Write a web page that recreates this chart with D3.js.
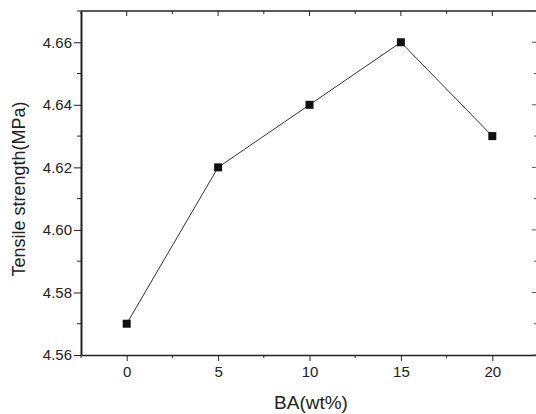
<!DOCTYPE html>
<html><head><meta charset="utf-8">
<script src="https://cdn.jsdelivr.net/npm/d3@7"></script>
<style>body{margin:0;background:#fff}svg{display:block}text{font-family:"Liberation Sans",Arial,sans-serif;fill:#222}</style>
</head><body>
<script>
const baContent = [0, 5, 10, 15, 20];
const tensile = [4.57, 4.62, 4.64, 4.66, 4.63];
const xTicks = [0, 5, 10, 15, 20];
const yTicks = [4.56, 4.58, 4.60, 4.62, 4.64, 4.66];

const W = 536, H = 414;
const m = {l: 81, r: -2, t: 11, b: 59};
const svg = d3.select("body").append("svg").attr("width", W).attr("height", H);
const x = d3.scaleLinear().domain([-2.5, 22.5]).range([m.l, W - m.r]);
const y = d3.scaleLinear().domain([4.56, 4.67]).range([H - m.b, m.t]);

const xMinor = d3.range(-2.5, 22.6, 2.5).filter(v => !xTicks.includes(v));
const yMinor = d3.range(4.57, 4.671, 0.02).map(v => +v.toFixed(3));

const x0 = x.range()[0], x1 = x.range()[1], y0 = y.range()[0], y1 = y.range()[1];
svg.append("line").attr("x1", x0).attr("x2", x1).attr("y1", y1).attr("y2", y1).attr("stroke", "#222").attr("stroke-width", 1.5);
svg.append("line").attr("x1", x1 - 1).attr("x2", x1 - 1).attr("y1", y1).attr("y2", y0).attr("stroke", "#999").attr("stroke-width", 1);

const gx = svg.append("g").attr("transform", `translate(0,${y0})`)
  .call(d3.axisBottom(x).tickValues(xTicks).tickSize(6).tickSizeOuter(0).tickPadding(5));
gx.select(".domain").attr("stroke", "#222").attr("stroke-width", 1.5);
gx.selectAll(".tick line").attr("stroke", "#222");
gx.selectAll(".tick text").attr("font-size", 15).attr("fill", "#222");
gx.selectAll(".minor").data(xMinor).enter().append("line")
  .attr("x1", d => x(d)).attr("x2", d => x(d)).attr("y1", 0).attr("y2", 3).attr("stroke", "#222");

const gy = svg.append("g").attr("transform", `translate(${x0},0)`)
  .call(d3.axisLeft(y).tickValues(yTicks).tickFormat(d3.format(".2f")).tickSize(7).tickSizeOuter(0).tickPadding(2));
gy.select(".domain").attr("stroke", "#222").attr("stroke-width", 2);
gy.selectAll(".tick line").attr("stroke", "#222");
gy.selectAll(".tick text").attr("font-size", 15).attr("fill", "#222");
gy.selectAll(".minor").data(yMinor).enter().append("line")
  .attr("x1", -4).attr("x2", 0).attr("y1", d => y(d)).attr("y2", d => y(d)).attr("stroke", "#222");

svg.append("g").selectAll("line").data(xTicks.concat(xMinor)).enter().append("line")
  .attr("x1", d => x(d)).attr("x2", d => x(d)).attr("y1", y1).attr("y2", d => y1 + (xTicks.includes(d) ? 5 : 3)).attr("stroke", "#222");
svg.append("g").selectAll("line").data(yTicks.concat(yMinor)).enter().append("line")
  .attr("x1", x1 - 1).attr("x2", d => x1 - 1 - (yTicks.includes(d) ? 5 : 3)).attr("y1", d => y(d)).attr("y2", d => y(d)).attr("stroke", "#555");

const pts = baContent.map((d, i) => [d, tensile[i]]);
svg.append("path").datum(pts)
  .attr("d", d3.line().x(d => x(d[0])).y(d => y(d[1])))
  .attr("fill", "none").attr("stroke", "#333").attr("stroke-width", 1);
svg.selectAll(".pt").data(pts).enter().append("rect")
  .attr("x", d => x(d[0]) - 4).attr("y", d => y(d[1]) - 4).attr("width", 8).attr("height", 8).attr("fill", "#111");

svg.append("text").attr("x", 311).attr("y", 409).attr("text-anchor", "middle").attr("font-size", 19).text("BA(wt%)");
svg.append("text").attr("transform", `translate(25,189) rotate(-90)`).attr("text-anchor", "middle").attr("font-size", 18).text("Tensile strength(MPa)");
</script>
</body></html>
